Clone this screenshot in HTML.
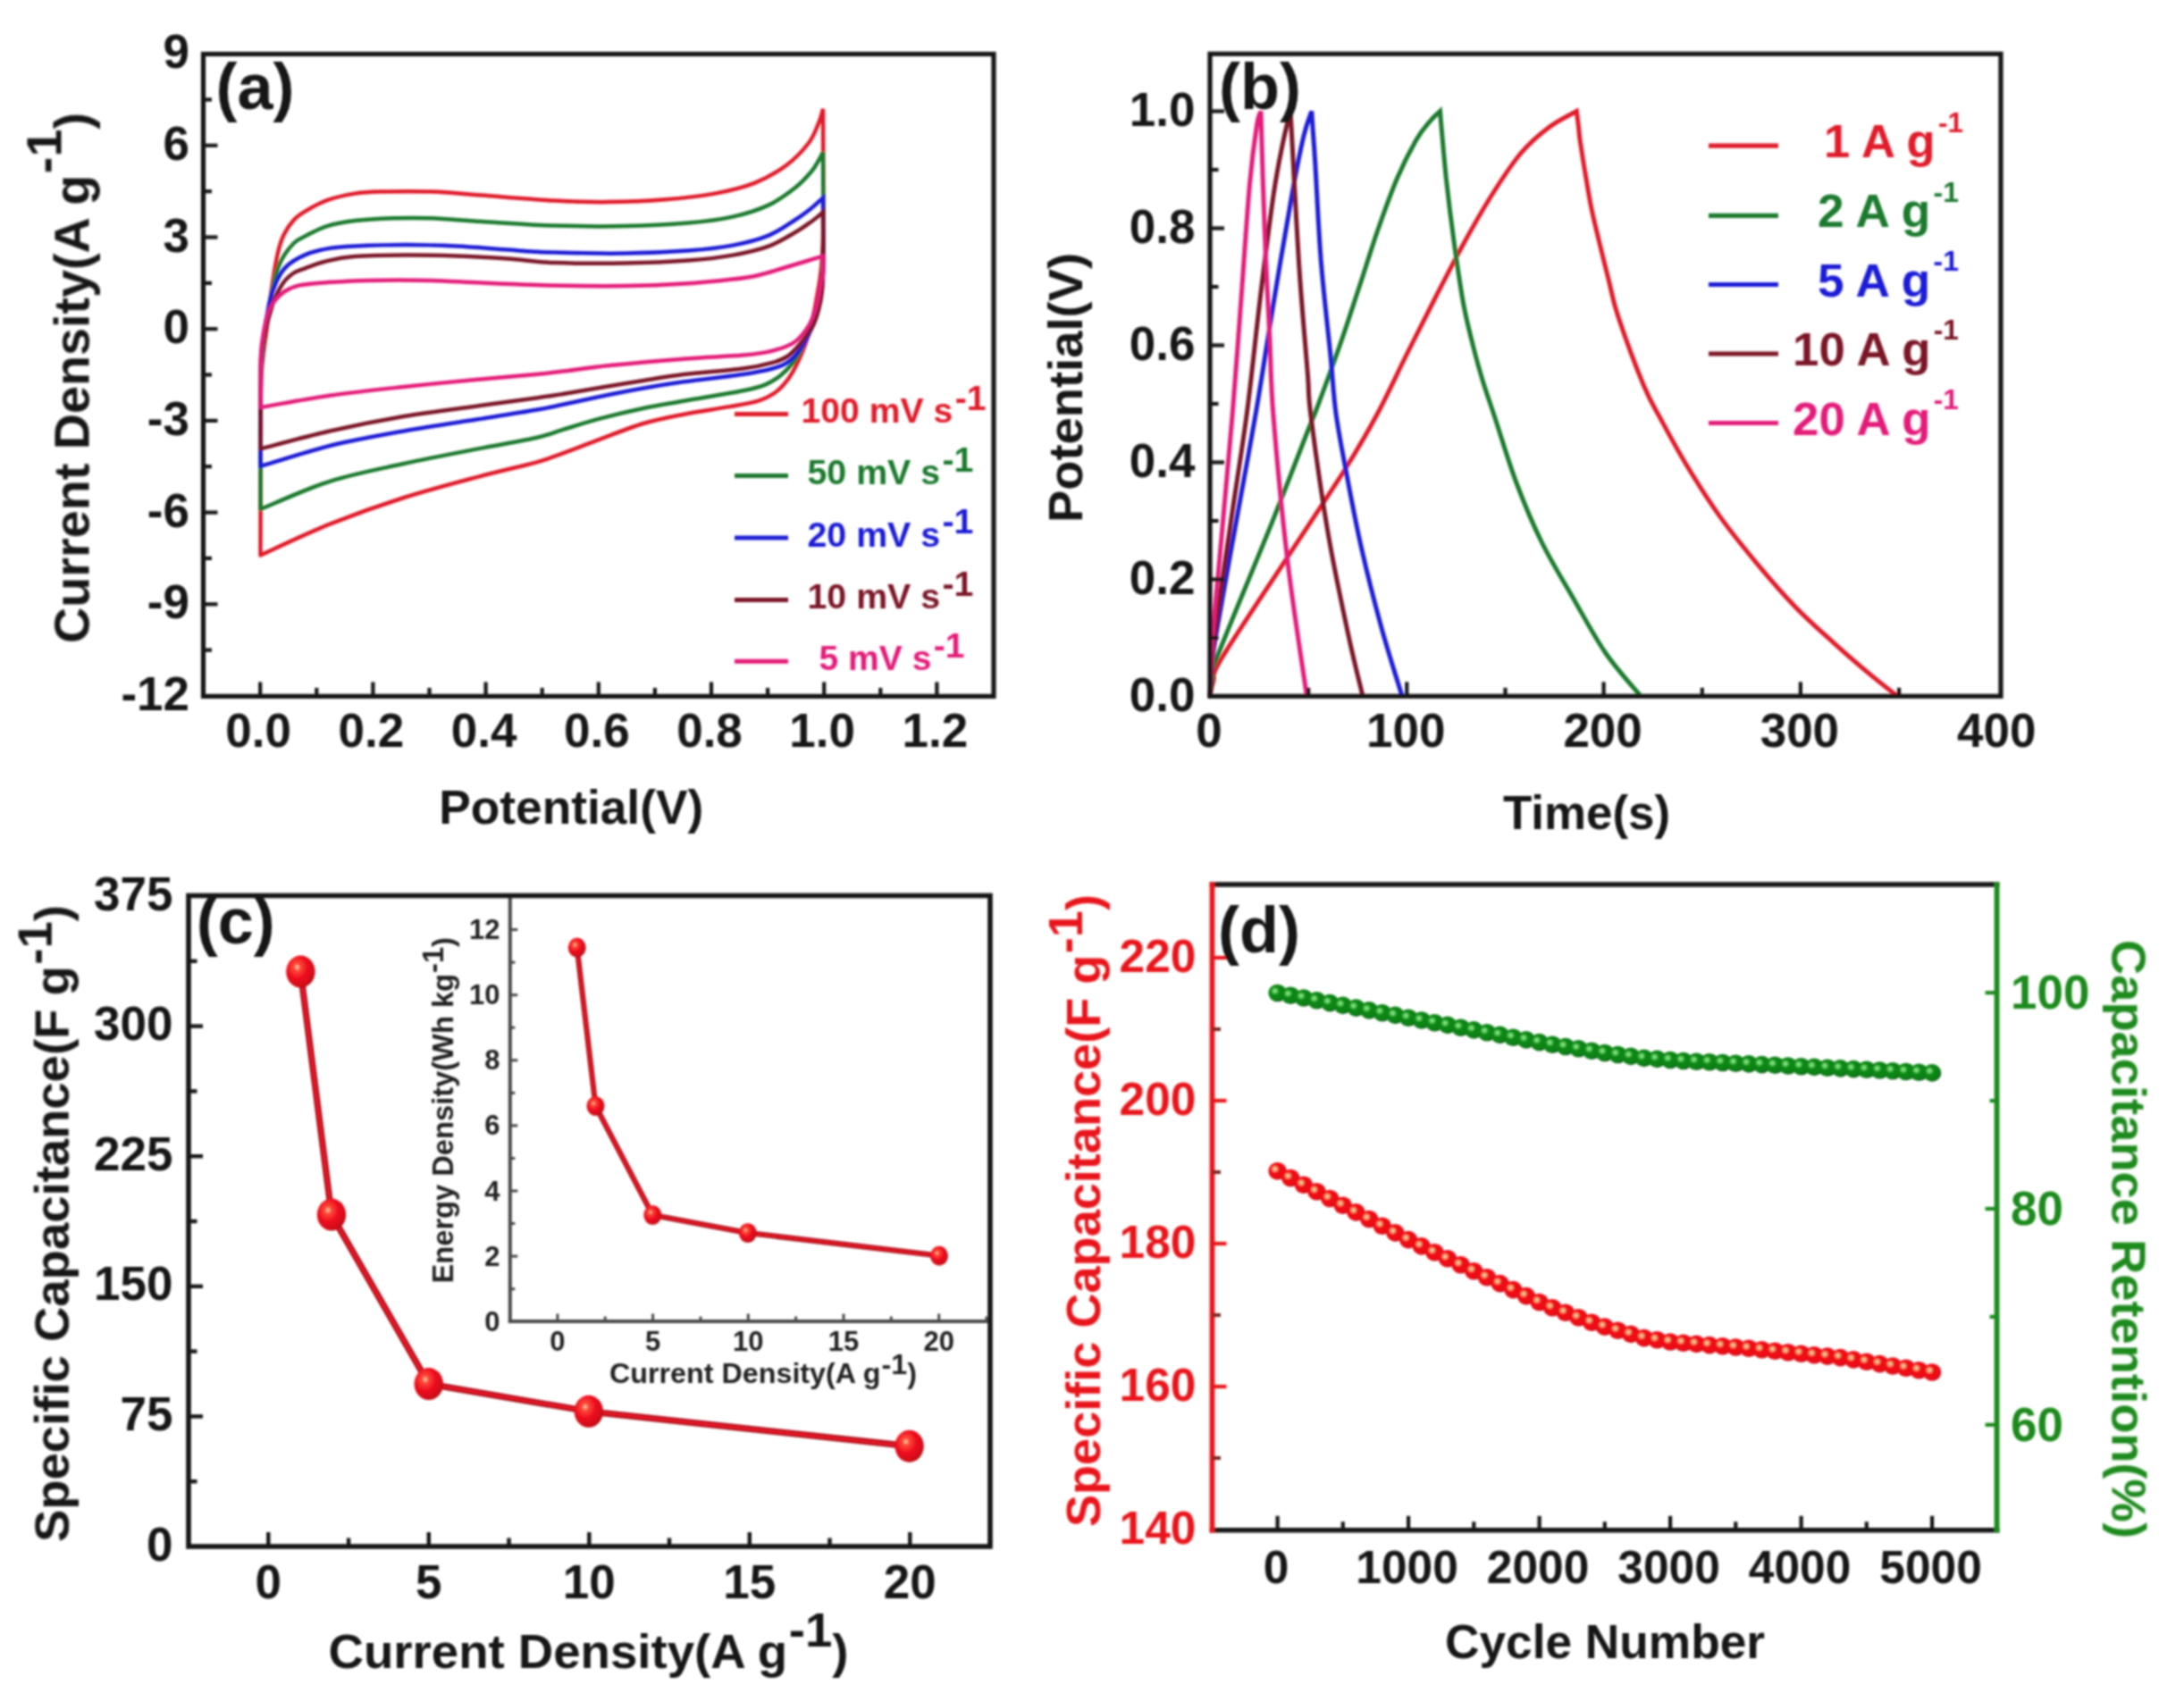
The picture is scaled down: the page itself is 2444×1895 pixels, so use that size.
<!DOCTYPE html>
<html lang="en"><head><meta charset="utf-8"><title>Electrochemical performance figure</title>
<style>html,body{margin:0;padding:0;background:#fff}body{width:2444px;height:1895px;overflow:hidden}svg{display:block}text{font-family:"Liberation Sans", sans-serif}</style>
</head><body>
<svg width="2444" height="1895" viewBox="0 0 2444 1895" role="img" aria-label="Four-panel electrochemical figure">
<defs>
<radialGradient id="ballR" cx="0.38" cy="0.36" r="0.7"><stop offset="0" stop-color="#ffd9b0"/><stop offset="0.16" stop-color="#ff4a3a"/><stop offset="0.5" stop-color="#ee1020"/><stop offset="0.85" stop-color="#d00818"/><stop offset="1" stop-color="#a80a14"/></radialGradient>
<radialGradient id="dotR" cx="0.36" cy="0.38" r="0.66" fx="0.36" fy="0.38"><stop offset="0" stop-color="#f8d8a8"/><stop offset="0.16" stop-color="#f4a878"/><stop offset="0.34" stop-color="#f21019"/><stop offset="0.8" stop-color="#ea0a16"/><stop offset="1" stop-color="#c00c16"/></radialGradient>
<radialGradient id="dotG" cx="0.36" cy="0.38" r="0.66" fx="0.36" fy="0.38"><stop offset="0" stop-color="#96f296"/><stop offset="0.16" stop-color="#62d062"/><stop offset="0.34" stop-color="#0d8a16"/><stop offset="0.8" stop-color="#0b7f13"/><stop offset="1" stop-color="#1c5e20"/></radialGradient>
<filter id="soft" x="-2%" y="-2%" width="104%" height="104%"><feGaussianBlur stdDeviation="1.1"/></filter>
</defs>
<rect width="2444" height="1895" fill="#ffffff"/>
<g filter="url(#soft)">
<g id="panel-a">
<path d="M291.5 621.4C291.6 601.2 291.6 533.6 291.8 500C292 466.4 291.4 442 292.5 420C293.6 398 296.7 383.6 298.5 368C300.3 352.4 301.5 340.3 303.5 326.5C305.5 312.7 308.2 295.6 310.5 285C312.8 274.4 314.4 269.5 317.5 263C320.6 256.5 324.8 250.6 329 246C333.2 241.4 336.8 239.2 343 235.6C349.2 231.9 356.9 227.3 366 224.1C375.1 220.9 387.4 218.2 397.4 216.6C407.4 215 411.8 214.9 426 214.6C440.2 214.3 463.8 213.9 482.6 214.6C501.4 215.3 516.1 216.9 539 218.6C561.9 220.3 596.5 223.3 620 224.6C643.5 225.8 659.7 226.3 680 226.1C700.3 225.9 722 225.2 742 223.6C762 222 782.8 219.8 800 216.6C817.2 213.4 831.7 209.9 845 204.6C858.3 199.3 870 192.4 880 185C890 177.6 899 167.8 905 160C911 152.2 913.3 144.3 916 138C918.7 131.7 920.2 124.7 921 122 L921 122C921 143.3 921.6 220.3 921.3 250C921 279.7 920.2 286.2 919 300C917.8 313.8 915.7 323.3 914 333C912.3 342.7 911.2 349.2 909 358C906.8 366.8 904 377.5 901 386C898 394.5 894.3 402.4 891 409C887.7 415.6 884.8 420.7 881 425.7C877.2 430.7 873.5 435.1 868 439C862.5 442.9 856.8 446.1 848 448.8C839.2 451.5 828.8 452.9 815 455.4C801.2 457.9 781.2 460.6 765.4 463.7C749.6 466.8 735.7 469.3 720 474C704.3 478.7 686 486.2 671 491.8C656 497.4 641.7 503.1 630 507.3C618.3 511.6 616.6 512.9 600.7 517.3C584.8 521.7 559.4 527.2 534.6 533.8C509.8 540.4 479.6 548.2 452 557C424.4 565.8 395.8 576 369 586.7C342.2 597.4 304.4 615.6 291.5 621.4" fill="none" stroke="#e01a2c" stroke-width="4.5" stroke-linejoin="miter" stroke-linecap="round"/>
<path d="M291.5 570C291.6 553.3 291.6 496.7 291.8 470C292 443.3 291.1 430.2 292.5 410C293.9 389.8 297.5 365.3 300 349C302.5 332.7 305 321.7 307.5 312C310 302.3 311.4 297.7 315 291C318.6 284.3 324.3 276.6 329 272C333.7 267.4 336.8 266.8 343 263.6C349.2 260.5 357 255.8 366 253.1C375 250.3 384.7 248.6 397 247.1C409.3 245.6 425.7 244.8 440 244.3C454.3 243.8 466.1 243.7 482.6 244.3C499.1 244.9 516.1 246.6 539 248C561.9 249.4 593.2 251.8 620 252.6C646.8 253.4 675 253.6 700 253.1C725 252.6 750 251.3 770 249.6C790 247.8 805 245.9 820 242.6C835 239.3 848.3 235 860 229.6C871.7 224.2 882 216.3 890 210C898 203.7 903.5 197.3 908 192C912.5 186.7 914.8 181.6 917 178C919.2 174.4 920.3 171.6 921 170.3 L921 170.3C921 186.9 921.5 245.7 921.3 270C921 294.3 920.5 304.2 919.5 316C918.5 327.8 916.9 332.8 915 341C913.1 349.2 911.2 356.4 908 365C904.8 373.6 899.4 385.8 896 392.6C892.6 399.4 891.6 401.1 887.7 405.8C883.9 410.5 878.1 416.6 872.9 420.7C867.7 424.8 863.2 427.8 856.3 430.6C849.4 433.4 846.6 434.3 831.5 437.3C816.4 440.3 784 445.5 765.4 448.8C746.8 452.1 735.7 453.7 720 457C704.3 460.3 686 464.7 671 468.7C656 472.7 641.8 477.3 630 480.9C618.2 484.4 615.9 486.4 600 490C584.1 493.6 559.3 497.6 534.6 502.4C509.9 507.2 479.6 512.9 452 519C424.4 525.1 395.8 530.3 369 538.8C342.2 547.3 304.4 564.8 291.5 570" fill="none" stroke="#1b7a2e" stroke-width="4.5" stroke-linejoin="miter" stroke-linecap="round"/>
<path d="M291.5 522C291.6 508.3 291.6 461.2 291.8 440C292 418.8 291.3 411.6 292.8 395C294.3 378.4 298.2 354 301 340.7C303.8 327.4 306.1 322.1 309.4 315C312.7 307.9 315.6 302.9 320.8 298C326 293.1 333.2 288.9 340.7 285.6C348.2 282.3 356.6 280.1 366 278.4C375.4 276.7 382.3 276.3 397 275.6C411.7 274.9 435 274.1 454 274.1C473 274.1 492 274.7 511 275.6C530 276.5 549.8 278.4 568 279.6C586.2 280.8 598 281.9 620 282.6C642 283.3 675 283.9 700 283.6C725 283.3 750 282.1 770 280.6C790 279.1 805 277.4 820 274.6C835 271.8 848.3 268.4 860 263.6C871.7 258.8 882 251.1 890 246C898 240.9 903.5 236.5 908 233C912.5 229.5 914.8 226.9 917 225C919.2 223.1 920.3 222 921 221.4 L921 221.4C921 232.8 921.5 273.2 921.3 290C921.1 306.8 920.8 312.8 919.8 322C918.8 331.2 917.4 337.5 915.5 345C913.6 352.5 912 359.1 908.5 367C905 374.9 899 386.1 894.4 392.6C889.8 399.1 886 402.5 881 405.8C876 409.1 872.9 410.3 864.6 412.5C856.4 414.7 848 416.5 831.5 419C815 421.5 784 424.7 765.4 427.3C746.8 429.9 735.7 431.7 720 434.5C704.3 437.3 686 440.9 671 444C656 447.1 641.8 450.3 630 452.8C618.2 455.3 615.9 456.1 600 458.8C584.1 461.6 559.3 465.4 534.6 469.3C509.9 473.2 479.6 477.6 452 482.5C424.4 487.4 395.8 492.4 369 499C342.2 505.6 304.4 518.2 291.5 522" fill="none" stroke="#1f1fd6" stroke-width="4.5" stroke-linejoin="miter" stroke-linecap="round"/>
<path d="M291.5 502.4C291.6 490.3 291.6 448.7 291.8 430C292.1 411.3 290.8 404.8 293 390C295.2 375.2 301.2 353 305 341C308.8 329 312.2 323.8 316 318C319.8 312.2 323.7 309 328 306C332.3 303 335.7 302.4 342 300.1C348.3 297.8 356.8 294.3 366 292.1C375.2 289.9 382.3 288.2 397 287.1C411.7 286 435 285.7 454 285.6C473 285.5 492 285.9 511 286.6C530 287.3 549.8 288.4 568 289.6C586.2 290.8 598 293.2 620 294C642 294.8 675 295 700 294.6C725 294.2 750 293.1 770 291.6C790 290.1 805 288.3 820 285.6C835 282.9 848.3 279.9 860 275.6C871.7 271.3 882 264.6 890 260C898 255.4 903.5 251.2 908 248C912.5 244.8 914.8 242.8 917 241C919.2 239.2 920.3 237.7 921 237 L921 237C921 246.7 921.5 280.3 921.3 295C921.1 309.7 920.9 316.3 920 325C919.1 333.7 917.8 340.2 916 347C914.2 353.8 912.6 359.5 909 366C905.4 372.5 899.1 380.5 894.4 386C889.7 391.5 886 395.7 881 399C876 402.3 872.9 403.6 864.6 405.8C856.4 408.1 848 410.3 831.5 412.5C815 414.7 784 416.8 765.4 419C746.8 421.2 735.7 423.5 720 426C704.3 428.5 686 431.5 671 434C656 436.5 641.8 439.1 630 441C618.2 442.9 615.9 443.3 600 445.5C584.1 447.7 559.3 451 534.6 454.4C509.9 457.8 479.6 461.3 452 466C424.4 470.7 395.8 476.4 369 482.5C342.2 488.6 304.4 499.1 291.5 502.4" fill="none" stroke="#7a1626" stroke-width="4.5" stroke-linejoin="miter" stroke-linecap="round"/>
<path d="M291.5 456C291.6 448.3 291.6 421.8 291.8 410C292.1 398.2 291.7 394.7 293 385C294.3 375.3 297.2 359.9 299.5 352C301.8 344.1 303.5 342.1 306.6 337.8C309.7 333.6 313.3 329.6 318 326.5C322.7 323.4 327 321.1 335 319.4C343 317.7 353.2 317 366 316.1C378.8 315.2 392.2 314.3 411.6 313.9C431 313.5 461.4 313.5 482.6 313.9C503.8 314.4 516.1 315.7 539 316.6C561.9 317.6 593.2 319 620 319.6C646.8 320.2 675.8 320.4 700 320.1C724.2 319.8 745.4 318.9 765.4 317.6C785.4 316.4 806.2 314.2 820 312.6C833.8 311 838 310.5 848 308.2C858 305.9 870.5 301.8 880 299C889.5 296.2 898.2 293.6 905 291.5C911.8 289.4 918.3 287.5 921 286.7 L921 286.7C921 289.8 921.5 300 921.2 305C920.9 310 920.2 310.5 919 316.5C917.8 322.5 916.4 333.3 914.2 341C912 348.7 910.1 355.9 906 362.8C901.9 369.8 896.3 377.7 889.4 382.7C882.5 387.7 874.2 390.1 864.6 392.6C855 395.1 848 396.1 831.5 397.6C815 399.1 790.2 399.8 765.4 401.7C740.6 403.6 705.3 406.7 682.7 409C660.1 411.3 643.8 413.9 630 415.6C616.2 417.3 615.9 417.5 600 419C584.1 420.5 559.3 422.4 534.6 424.7C509.9 427 479.6 430 452 433C424.4 436 395.8 439 369 442.8C342.2 446.6 304.4 453.8 291.5 456" fill="none" stroke="#e31c79" stroke-width="4.5" stroke-linejoin="miter" stroke-linecap="round"/>
<rect x="227.5" y="60.5" width="884.5" height="718.9" fill="none" stroke="#161616" stroke-width="5.2"/>
<line x1="227.5" y1="676.3" x2="243.5" y2="676.3" stroke="#161616" stroke-width="4.2" stroke-linecap="butt"/>
<line x1="227.5" y1="573.6" x2="243.5" y2="573.6" stroke="#161616" stroke-width="4.2" stroke-linecap="butt"/>
<line x1="227.5" y1="470.9" x2="243.5" y2="470.9" stroke="#161616" stroke-width="4.2" stroke-linecap="butt"/>
<line x1="227.5" y1="368.2" x2="243.5" y2="368.2" stroke="#161616" stroke-width="4.2" stroke-linecap="butt"/>
<line x1="227.5" y1="265.5" x2="243.5" y2="265.5" stroke="#161616" stroke-width="4.2" stroke-linecap="butt"/>
<line x1="227.5" y1="162.8" x2="243.5" y2="162.8" stroke="#161616" stroke-width="4.2" stroke-linecap="butt"/>
<line x1="227.5" y1="727.6" x2="237" y2="727.6" stroke="#161616" stroke-width="4.2" stroke-linecap="butt"/>
<line x1="227.5" y1="624.9" x2="237" y2="624.9" stroke="#161616" stroke-width="4.2" stroke-linecap="butt"/>
<line x1="227.5" y1="522.2" x2="237" y2="522.2" stroke="#161616" stroke-width="4.2" stroke-linecap="butt"/>
<line x1="227.5" y1="419.5" x2="237" y2="419.5" stroke="#161616" stroke-width="4.2" stroke-linecap="butt"/>
<line x1="227.5" y1="316.9" x2="237" y2="316.9" stroke="#161616" stroke-width="4.2" stroke-linecap="butt"/>
<line x1="227.5" y1="214.2" x2="237" y2="214.2" stroke="#161616" stroke-width="4.2" stroke-linecap="butt"/>
<line x1="227.5" y1="111.5" x2="237" y2="111.5" stroke="#161616" stroke-width="4.2" stroke-linecap="butt"/>
<text x="212" y="76.1" font-size="53" font-weight="bold" text-anchor="end" fill="#161616">9</text>
<text x="212" y="178.8" font-size="53" font-weight="bold" text-anchor="end" fill="#161616">6</text>
<text x="212" y="281.5" font-size="53" font-weight="bold" text-anchor="end" fill="#161616">3</text>
<text x="212" y="384.2" font-size="53" font-weight="bold" text-anchor="end" fill="#161616">0</text>
<text x="212" y="486.9" font-size="53" font-weight="bold" text-anchor="end" fill="#161616">-3</text>
<text x="212" y="589.6" font-size="53" font-weight="bold" text-anchor="end" fill="#161616">-6</text>
<text x="212" y="692.3" font-size="53" font-weight="bold" text-anchor="end" fill="#161616">-9</text>
<text x="212" y="795" font-size="53" font-weight="bold" text-anchor="end" fill="#161616">-12</text>
<line x1="291.2" y1="779.4" x2="291.2" y2="763.4" stroke="#161616" stroke-width="4.2" stroke-linecap="butt"/>
<text x="289.2" y="836" font-size="53" font-weight="bold" text-anchor="middle" fill="#161616">0.0</text>
<line x1="417.4" y1="779.4" x2="417.4" y2="763.4" stroke="#161616" stroke-width="4.2" stroke-linecap="butt"/>
<text x="415.4" y="836" font-size="53" font-weight="bold" text-anchor="middle" fill="#161616">0.2</text>
<line x1="543.6" y1="779.4" x2="543.6" y2="763.4" stroke="#161616" stroke-width="4.2" stroke-linecap="butt"/>
<text x="541.6" y="836" font-size="53" font-weight="bold" text-anchor="middle" fill="#161616">0.4</text>
<line x1="669.8" y1="779.4" x2="669.8" y2="763.4" stroke="#161616" stroke-width="4.2" stroke-linecap="butt"/>
<text x="667.8" y="836" font-size="53" font-weight="bold" text-anchor="middle" fill="#161616">0.6</text>
<line x1="796" y1="779.4" x2="796" y2="763.4" stroke="#161616" stroke-width="4.2" stroke-linecap="butt"/>
<text x="794" y="836" font-size="53" font-weight="bold" text-anchor="middle" fill="#161616">0.8</text>
<line x1="922.2" y1="779.4" x2="922.2" y2="763.4" stroke="#161616" stroke-width="4.2" stroke-linecap="butt"/>
<text x="920.2" y="836" font-size="53" font-weight="bold" text-anchor="middle" fill="#161616">1.0</text>
<line x1="1048.4" y1="779.4" x2="1048.4" y2="763.4" stroke="#161616" stroke-width="4.2" stroke-linecap="butt"/>
<text x="1046.4" y="836" font-size="53" font-weight="bold" text-anchor="middle" fill="#161616">1.2</text>
<line x1="354.3" y1="779.4" x2="354.3" y2="769.9" stroke="#161616" stroke-width="4.2" stroke-linecap="butt"/>
<line x1="480.5" y1="779.4" x2="480.5" y2="769.9" stroke="#161616" stroke-width="4.2" stroke-linecap="butt"/>
<line x1="606.7" y1="779.4" x2="606.7" y2="769.9" stroke="#161616" stroke-width="4.2" stroke-linecap="butt"/>
<line x1="732.9" y1="779.4" x2="732.9" y2="769.9" stroke="#161616" stroke-width="4.2" stroke-linecap="butt"/>
<line x1="859.1" y1="779.4" x2="859.1" y2="769.9" stroke="#161616" stroke-width="4.2" stroke-linecap="butt"/>
<line x1="985.3" y1="779.4" x2="985.3" y2="769.9" stroke="#161616" stroke-width="4.2" stroke-linecap="butt"/>
<text x="639.2" y="921.5" font-size="53" font-weight="bold" text-anchor="middle" fill="#161616" textLength="296" lengthAdjust="spacingAndGlyphs">Potential(V)</text>
<text x="99.5" y="720" font-size="55" font-weight="bold" text-anchor="start" fill="#161616" transform="rotate(-90 99.5 720)" textLength="594" lengthAdjust="spacingAndGlyphs">Current Density(A g<tspan font-size="55" dy="-31.3" dx="1.6">-1</tspan><tspan dy="31.3" dx="0">)</tspan></text>
<text x="285.5" y="122" font-size="72" font-weight="bold" text-anchor="middle" fill="#161616">(a)</text>
<line x1="822" y1="463.5" x2="882" y2="463.5" stroke="#e01a2c" stroke-width="5" stroke-linecap="butt"/>
<text x="896.5" y="473" font-size="38" font-weight="bold" text-anchor="start" fill="#e01a2c" textLength="207" lengthAdjust="spacingAndGlyphs">100 mV s<tspan font-size="38" dy="-14.1" dx="2.3">-1</tspan><tspan dy="14.1" dx="0"></tspan></text>
<line x1="822" y1="532.5" x2="882" y2="532.5" stroke="#1b7a2e" stroke-width="5" stroke-linecap="butt"/>
<text x="903.5" y="542" font-size="38" font-weight="bold" text-anchor="start" fill="#1b7a2e" textLength="186" lengthAdjust="spacingAndGlyphs">50 mV s<tspan font-size="38" dy="-14.1" dx="2.3">-1</tspan><tspan dy="14.1" dx="0"></tspan></text>
<line x1="822" y1="602" x2="882" y2="602" stroke="#1f1fd6" stroke-width="5" stroke-linecap="butt"/>
<text x="903.5" y="611.5" font-size="38" font-weight="bold" text-anchor="start" fill="#1f1fd6" textLength="186" lengthAdjust="spacingAndGlyphs">20 mV s<tspan font-size="38" dy="-14.1" dx="2.3">-1</tspan><tspan dy="14.1" dx="0"></tspan></text>
<line x1="822" y1="671.6" x2="882" y2="671.6" stroke="#7a1626" stroke-width="5" stroke-linecap="butt"/>
<text x="903.5" y="681.1" font-size="38" font-weight="bold" text-anchor="start" fill="#7a1626" textLength="186" lengthAdjust="spacingAndGlyphs">10 mV s<tspan font-size="38" dy="-14.1" dx="2.3">-1</tspan><tspan dy="14.1" dx="0"></tspan></text>
<line x1="822" y1="740.3" x2="882" y2="740.3" stroke="#e31c79" stroke-width="5" stroke-linecap="butt"/>
<text x="916.5" y="749.8" font-size="38" font-weight="bold" text-anchor="start" fill="#e31c79" textLength="163" lengthAdjust="spacingAndGlyphs">5 mV s<tspan font-size="38" dy="-14.1" dx="2.3">-1</tspan><tspan dy="14.1" dx="0"></tspan></text>
</g>
<g id="panel-b">
<path d="M1354 779C1354.7 776.2 1355.8 769 1358 762C1360.2 755 1353.2 760.1 1367 737C1380.8 713.9 1417.8 658.8 1441 623.3C1464.2 587.8 1489.2 550.9 1506 524C1522.8 497.1 1530.7 483.2 1542 462C1553.3 440.8 1563.4 418.3 1574 397C1584.6 375.7 1595.2 354.7 1605.8 334C1616.4 313.3 1627.1 292.3 1637.7 273C1648.3 253.7 1659 234.8 1669.6 218C1680.2 201.2 1690.9 184.6 1701.5 172C1712.1 159.4 1722.9 150.4 1733.4 142.5C1743.9 134.6 1759.2 127.5 1764.3 124.5 L1764.3 124.5C1764.7 127.4 1765.8 136.2 1766.5 142C1767.2 147.8 1766.8 148.3 1768.4 159C1770 169.7 1773.6 192.3 1776 206C1778.4 219.7 1778.6 223.5 1782.6 241.3C1786.6 259.1 1795.3 293.8 1800 312.7C1804.7 331.6 1804.4 335.1 1811 354.9C1817.6 374.7 1831.4 412.3 1839.4 431.5C1847.4 450.7 1851 455.1 1859 470C1867 484.9 1876.7 503 1887.6 521C1898.5 539 1911.3 559.4 1924.5 577.9C1937.7 596.4 1952.8 614.8 1967 631.8C1981.2 648.8 1995.5 665.3 2009.7 680C2023.9 694.7 2038.1 707 2052.3 719.8C2066.5 732.6 2083.3 747 2094.9 756.7C2106.5 766.4 2117.3 774.5 2121.8 778" fill="none" stroke="#e01a2c" stroke-width="5.0" stroke-linejoin="miter" stroke-linecap="round"/>
<path d="M1354 779C1354.5 775.5 1355.8 765 1357 758C1358.2 751 1350.2 765.9 1361.4 736.8C1372.6 707.7 1406.9 626.1 1423.9 583.6C1440.9 541.1 1455.2 503.3 1463.6 482C1471.9 460.7 1468 472 1474 456C1480 440 1491.7 408.3 1499.5 386C1507.3 363.7 1513.7 343.5 1520.8 322C1527.9 300.5 1534.9 277.3 1542 257C1549.1 236.7 1556.2 216.7 1563.3 200C1570.4 183.3 1578.5 167.7 1584.6 157C1590.7 146.3 1595.5 141.4 1600 136C1604.5 130.6 1609.6 126.4 1611.5 124.5 L1611.5 124.5C1611.8 127.4 1611.8 129.1 1613 142C1614.2 154.9 1616.3 180.7 1618.6 202C1620.9 223.3 1623.8 246.9 1627 270C1630.2 293.1 1634.1 320.8 1637.7 340.3C1641.3 359.8 1644.9 372.8 1648.4 387C1652 401.2 1654.8 411.6 1659 425.4C1663.2 439.2 1667.5 451.1 1673.7 470C1679.9 488.9 1687.9 516.3 1696.4 539C1704.9 561.7 1714.2 584.4 1724.8 606C1735.4 627.6 1748 647.9 1760 668.7C1772 689.5 1784.3 712.8 1796.8 731C1809.3 749.2 1828.6 770.2 1835 778" fill="none" stroke="#1b7a2e" stroke-width="5.0" stroke-linejoin="miter" stroke-linecap="round"/>
<path d="M1354 779C1354.3 774.2 1355 760.7 1356 750C1357 739.3 1355.2 744.2 1360 715C1364.8 685.8 1377.4 617.2 1385 575C1392.6 532.8 1398.7 501.1 1405.4 462C1412.1 422.9 1418.2 381.5 1425 340.3C1431.8 299.1 1440.6 246.2 1446.3 214.8C1452 183.4 1455.4 167.1 1459 152C1462.6 136.9 1466.3 129.1 1467.8 124.5 L1467.8 124.5C1468.1 128.8 1468.8 139.9 1469.5 150C1470.2 160.1 1470.5 161.4 1471.9 185C1473.4 208.6 1475.4 255.9 1478.2 291.4C1481 326.8 1486.1 369.3 1488.9 397.7C1491.7 426.1 1492 440.5 1494.9 462C1497.8 483.5 1501.5 501.8 1506.2 526.8C1510.9 551.8 1516.6 582.7 1523.2 612C1529.8 641.3 1538.4 675.1 1546 702.8C1553.6 730.5 1564.9 765.5 1568.7 778" fill="none" stroke="#1f1fd6" stroke-width="5.0" stroke-linejoin="miter" stroke-linecap="round"/>
<path d="M1354 779C1354.3 773.8 1355.1 759.5 1356 748C1356.9 736.5 1355.8 738 1359.5 710C1363.2 682 1372 621.3 1378 580C1384 538.7 1390 503 1395.4 462C1400.8 421 1405.3 374.5 1410.2 334C1415.1 293.5 1420.8 248.1 1425 219C1429.2 189.9 1432.5 175.2 1435.7 159.5C1438.9 143.8 1442.6 130.3 1444 124.5 L1444 124.5C1444.2 128.8 1444.8 136.4 1445.5 150C1446.2 163.6 1447 179.2 1448.5 206.3C1450 233.4 1452.3 277.2 1454.8 312.7C1457.3 348.1 1461.4 393.4 1463.4 419C1465.4 444.6 1463.2 436.2 1467 466C1470.8 495.8 1479.3 556.8 1486.3 597.7C1493.3 638.6 1502.6 681.2 1509 711.3C1515.4 741.3 1522.1 766.9 1524.7 778" fill="none" stroke="#7a1626" stroke-width="5.0" stroke-linejoin="miter" stroke-linecap="round"/>
<path d="M1354 779C1354.2 773.3 1354.8 758.2 1355.5 745C1356.2 731.8 1355.9 725.8 1358 700C1360.1 674.2 1364.5 629 1368 590C1371.5 551 1375.5 508.7 1379 466C1382.5 423.3 1385.8 377.3 1389 334C1392.2 290.7 1395.6 238.3 1398.5 206C1401.4 173.7 1404.4 153.6 1406.5 140C1408.6 126.4 1410.2 127.1 1411 124.5 L1411 124.5C1411.2 130.4 1411.6 146.4 1412 160C1412.4 173.6 1412.6 184.1 1413.4 206C1414.2 227.9 1415.4 263 1416.6 291.4C1417.8 319.8 1419.4 347.4 1420.8 376.5C1422.2 405.6 1421.6 423.9 1425 466C1428.4 508.1 1434.8 577 1441 629C1447.2 681 1458.7 753.2 1462.2 778" fill="none" stroke="#e31c79" stroke-width="5.0" stroke-linejoin="miter" stroke-linecap="round"/>
<rect x="1354" y="60.3" width="885" height="719" fill="none" stroke="#161616" stroke-width="5.2"/>
<text x="1337.5" y="795.5" font-size="53" font-weight="bold" text-anchor="end" fill="#161616">0.0</text>
<line x1="1354" y1="714" x2="1363.5" y2="714" stroke="#161616" stroke-width="4.2" stroke-linecap="butt"/>
<line x1="1354" y1="648.5" x2="1370" y2="648.5" stroke="#161616" stroke-width="4.2" stroke-linecap="butt"/>
<text x="1337.5" y="664.5" font-size="53" font-weight="bold" text-anchor="end" fill="#161616">0.2</text>
<line x1="1354" y1="583" x2="1363.5" y2="583" stroke="#161616" stroke-width="4.2" stroke-linecap="butt"/>
<line x1="1354" y1="517.5" x2="1370" y2="517.5" stroke="#161616" stroke-width="4.2" stroke-linecap="butt"/>
<text x="1337.5" y="533.5" font-size="53" font-weight="bold" text-anchor="end" fill="#161616">0.4</text>
<line x1="1354" y1="452" x2="1363.5" y2="452" stroke="#161616" stroke-width="4.2" stroke-linecap="butt"/>
<line x1="1354" y1="386.5" x2="1370" y2="386.5" stroke="#161616" stroke-width="4.2" stroke-linecap="butt"/>
<text x="1337.5" y="402.5" font-size="53" font-weight="bold" text-anchor="end" fill="#161616">0.6</text>
<line x1="1354" y1="321" x2="1363.5" y2="321" stroke="#161616" stroke-width="4.2" stroke-linecap="butt"/>
<line x1="1354" y1="255.5" x2="1370" y2="255.5" stroke="#161616" stroke-width="4.2" stroke-linecap="butt"/>
<text x="1337.5" y="271.5" font-size="53" font-weight="bold" text-anchor="end" fill="#161616">0.8</text>
<line x1="1354" y1="190" x2="1363.5" y2="190" stroke="#161616" stroke-width="4.2" stroke-linecap="butt"/>
<line x1="1354" y1="124.5" x2="1370" y2="124.5" stroke="#161616" stroke-width="4.2" stroke-linecap="butt"/>
<text x="1337.5" y="140.5" font-size="53" font-weight="bold" text-anchor="end" fill="#161616">1.0</text>
<text x="1353" y="836" font-size="53" font-weight="bold" text-anchor="middle" fill="#161616">0</text>
<line x1="1464.2" y1="779.3" x2="1464.2" y2="769.8" stroke="#161616" stroke-width="4.2" stroke-linecap="butt"/>
<line x1="1574.3" y1="779.3" x2="1574.3" y2="763.3" stroke="#161616" stroke-width="4.2" stroke-linecap="butt"/>
<text x="1573.3" y="836" font-size="53" font-weight="bold" text-anchor="middle" fill="#161616">100</text>
<line x1="1684.5" y1="779.3" x2="1684.5" y2="769.8" stroke="#161616" stroke-width="4.2" stroke-linecap="butt"/>
<line x1="1794.6" y1="779.3" x2="1794.6" y2="763.3" stroke="#161616" stroke-width="4.2" stroke-linecap="butt"/>
<text x="1793.6" y="836" font-size="53" font-weight="bold" text-anchor="middle" fill="#161616">200</text>
<line x1="1904.8" y1="779.3" x2="1904.8" y2="769.8" stroke="#161616" stroke-width="4.2" stroke-linecap="butt"/>
<line x1="2014.9" y1="779.3" x2="2014.9" y2="763.3" stroke="#161616" stroke-width="4.2" stroke-linecap="butt"/>
<text x="2013.9" y="836" font-size="53" font-weight="bold" text-anchor="middle" fill="#161616">300</text>
<line x1="2125.1" y1="779.3" x2="2125.1" y2="769.8" stroke="#161616" stroke-width="4.2" stroke-linecap="butt"/>
<text x="2234.2" y="836" font-size="53" font-weight="bold" text-anchor="middle" fill="#161616">400</text>
<text x="1775.5" y="928" font-size="53" font-weight="bold" text-anchor="middle" fill="#161616" textLength="187" lengthAdjust="spacingAndGlyphs">Time(s)</text>
<text x="1210.5" y="585" font-size="54" font-weight="bold" text-anchor="start" fill="#161616" transform="rotate(-90 1210.5 585)" textLength="302" lengthAdjust="spacingAndGlyphs">Potential(V)</text>
<text x="1410" y="122" font-size="72" font-weight="bold" text-anchor="middle" fill="#161616">(b)</text>
<line x1="1912" y1="163.2" x2="1990" y2="163.2" stroke="#e01a2c" stroke-width="5.2" stroke-linecap="butt"/>
<text x="2041" y="176.2" font-size="51" font-weight="bold" text-anchor="start" fill="#e01a2c" textLength="156" lengthAdjust="spacingAndGlyphs">1 A g<tspan font-size="30.6" dy="-28.6" dx="3.1">-1</tspan><tspan dy="28.6" dx="0"></tspan></text>
<line x1="1912" y1="241.3" x2="1990" y2="241.3" stroke="#1b7a2e" stroke-width="5.2" stroke-linecap="butt"/>
<text x="2034" y="254.3" font-size="51" font-weight="bold" text-anchor="start" fill="#1b7a2e" textLength="158" lengthAdjust="spacingAndGlyphs">2 A g<tspan font-size="30.6" dy="-28.6" dx="3.1">-1</tspan><tspan dy="28.6" dx="0"></tspan></text>
<line x1="1912" y1="318.5" x2="1990" y2="318.5" stroke="#1f1fd6" stroke-width="5.2" stroke-linecap="butt"/>
<text x="2034" y="331.5" font-size="51" font-weight="bold" text-anchor="start" fill="#1f1fd6" textLength="158" lengthAdjust="spacingAndGlyphs">5 A g<tspan font-size="30.6" dy="-28.6" dx="3.1">-1</tspan><tspan dy="28.6" dx="0"></tspan></text>
<line x1="1912" y1="396" x2="1990" y2="396" stroke="#7a1626" stroke-width="5.2" stroke-linecap="butt"/>
<text x="2006" y="409" font-size="51" font-weight="bold" text-anchor="start" fill="#7a1626" textLength="186" lengthAdjust="spacingAndGlyphs">10 A g<tspan font-size="30.6" dy="-28.6" dx="3.1">-1</tspan><tspan dy="28.6" dx="0"></tspan></text>
<line x1="1912" y1="473.5" x2="1990" y2="473.5" stroke="#e31c79" stroke-width="5.2" stroke-linecap="butt"/>
<text x="2006" y="486.5" font-size="51" font-weight="bold" text-anchor="start" fill="#e31c79" textLength="186" lengthAdjust="spacingAndGlyphs">20 A g<tspan font-size="30.6" dy="-28.6" dx="3.1">-1</tspan><tspan dy="28.6" dx="0"></tspan></text>
</g>
<g id="panel-c">
<line x1="570.8" y1="1002.5" x2="570.8" y2="1481" stroke="#4a4a4a" stroke-width="4" stroke-linecap="butt"/>
<line x1="568.8" y1="1479" x2="1108" y2="1479" stroke="#4a4a4a" stroke-width="4" stroke-linecap="butt"/>
<line x1="570.8" y1="1442.7" x2="576.3" y2="1442.7" stroke="#4a4a4a" stroke-width="3" stroke-linecap="butt"/>
<line x1="570.8" y1="1406.1" x2="579.3" y2="1406.1" stroke="#4a4a4a" stroke-width="3" stroke-linecap="butt"/>
<line x1="570.8" y1="1369.5" x2="576.3" y2="1369.5" stroke="#4a4a4a" stroke-width="3" stroke-linecap="butt"/>
<line x1="570.8" y1="1333" x2="579.3" y2="1333" stroke="#4a4a4a" stroke-width="3" stroke-linecap="butt"/>
<line x1="570.8" y1="1296.5" x2="576.3" y2="1296.5" stroke="#4a4a4a" stroke-width="3" stroke-linecap="butt"/>
<line x1="570.8" y1="1259.9" x2="579.3" y2="1259.9" stroke="#4a4a4a" stroke-width="3" stroke-linecap="butt"/>
<line x1="570.8" y1="1223.4" x2="576.3" y2="1223.4" stroke="#4a4a4a" stroke-width="3" stroke-linecap="butt"/>
<line x1="570.8" y1="1186.8" x2="579.3" y2="1186.8" stroke="#4a4a4a" stroke-width="3" stroke-linecap="butt"/>
<line x1="570.8" y1="1150.2" x2="576.3" y2="1150.2" stroke="#4a4a4a" stroke-width="3" stroke-linecap="butt"/>
<line x1="570.8" y1="1113.7" x2="579.3" y2="1113.7" stroke="#4a4a4a" stroke-width="3" stroke-linecap="butt"/>
<line x1="570.8" y1="1077.2" x2="576.3" y2="1077.2" stroke="#4a4a4a" stroke-width="3" stroke-linecap="butt"/>
<line x1="570.8" y1="1040.6" x2="579.3" y2="1040.6" stroke="#4a4a4a" stroke-width="3" stroke-linecap="butt"/>
<text x="559.5" y="1489.7" font-size="31" font-weight="bold" text-anchor="end" fill="#222">0</text>
<text x="559.5" y="1416.6" font-size="31" font-weight="bold" text-anchor="end" fill="#222">2</text>
<text x="559.5" y="1343.5" font-size="31" font-weight="bold" text-anchor="end" fill="#222">4</text>
<text x="559.5" y="1270.4" font-size="31" font-weight="bold" text-anchor="end" fill="#222">6</text>
<text x="559.5" y="1197.3" font-size="31" font-weight="bold" text-anchor="end" fill="#222">8</text>
<text x="559.5" y="1124.2" font-size="31" font-weight="bold" text-anchor="end" fill="#222">10</text>
<text x="559.5" y="1051.1" font-size="31" font-weight="bold" text-anchor="end" fill="#222">12</text>
<line x1="623.9" y1="1479" x2="623.9" y2="1470.5" stroke="#4a4a4a" stroke-width="3" stroke-linecap="butt"/>
<text x="623.9" y="1512" font-size="31" font-weight="bold" text-anchor="middle" fill="#222">0</text>
<line x1="730.6" y1="1479" x2="730.6" y2="1470.5" stroke="#4a4a4a" stroke-width="3" stroke-linecap="butt"/>
<text x="730.6" y="1512" font-size="31" font-weight="bold" text-anchor="middle" fill="#222">5</text>
<line x1="677.2" y1="1479" x2="677.2" y2="1473.5" stroke="#4a4a4a" stroke-width="3" stroke-linecap="butt"/>
<line x1="837.3" y1="1479" x2="837.3" y2="1470.5" stroke="#4a4a4a" stroke-width="3" stroke-linecap="butt"/>
<text x="837.3" y="1512" font-size="31" font-weight="bold" text-anchor="middle" fill="#222">10</text>
<line x1="784" y1="1479" x2="784" y2="1473.5" stroke="#4a4a4a" stroke-width="3" stroke-linecap="butt"/>
<line x1="944" y1="1479" x2="944" y2="1470.5" stroke="#4a4a4a" stroke-width="3" stroke-linecap="butt"/>
<text x="944" y="1512" font-size="31" font-weight="bold" text-anchor="middle" fill="#222">15</text>
<line x1="890.6" y1="1479" x2="890.6" y2="1473.5" stroke="#4a4a4a" stroke-width="3" stroke-linecap="butt"/>
<line x1="1050.7" y1="1479" x2="1050.7" y2="1470.5" stroke="#4a4a4a" stroke-width="3" stroke-linecap="butt"/>
<text x="1050.7" y="1512" font-size="31" font-weight="bold" text-anchor="middle" fill="#222">20</text>
<line x1="997.3" y1="1479" x2="997.3" y2="1473.5" stroke="#4a4a4a" stroke-width="3" stroke-linecap="butt"/>
<line x1="1104" y1="1479" x2="1104" y2="1473.5" stroke="#4a4a4a" stroke-width="3" stroke-linecap="butt"/>
<text x="682" y="1547.5" font-size="32" font-weight="bold" text-anchor="start" fill="#222" textLength="344" lengthAdjust="spacingAndGlyphs">Current Density(A g<tspan font-size="32" dy="-9.6" dx="1">-1</tspan><tspan dy="9.6" dx="0">)</tspan></text>
<text x="506.8" y="1436.5" font-size="33" font-weight="bold" text-anchor="start" fill="#222" transform="rotate(-90 506.8 1436.5)" textLength="387.5" lengthAdjust="spacingAndGlyphs">Energy Density(Wh kg<tspan font-size="33" dy="-11.2" dx="1">-1</tspan><tspan dy="11.2" dx="0">)</tspan></text>
<path d="M645.7 1060.6 L666.5 1238 L730.3 1360 L836.8 1380 L1051 1405.6" fill="none" stroke="#a80c18" stroke-width="6" stroke-linejoin="round" stroke-linecap="round"/>
<path d="M645.7 1060.6 L666.5 1238 L730.3 1360 L836.8 1380 L1051 1405.6" fill="none" stroke="#e21424" stroke-width="3" stroke-linejoin="round" stroke-linecap="round"/>
<ellipse cx="645.7" cy="1060.6" rx="10" ry="10.8" fill="url(#ballR)"/>
<ellipse cx="666.5" cy="1238" rx="10" ry="10.8" fill="url(#ballR)"/>
<ellipse cx="730.3" cy="1360" rx="10" ry="10.8" fill="url(#ballR)"/>
<ellipse cx="836.8" cy="1380" rx="10" ry="10.8" fill="url(#ballR)"/>
<ellipse cx="1051" cy="1405.6" rx="10" ry="10.8" fill="url(#ballR)"/>
<path d="M336.4 1087.6 L371 1359.6 L479.8 1549.1 L658.8 1579.8 L1017.6 1618.7" fill="none" stroke="#a80c18" stroke-width="7.2" stroke-linejoin="round" stroke-linecap="round"/>
<path d="M336.4 1087.6 L371 1359.6 L479.8 1549.1 L658.8 1579.8 L1017.6 1618.7" fill="none" stroke="#e41426" stroke-width="3.6" stroke-linejoin="round" stroke-linecap="round"/>
<ellipse cx="336.4" cy="1087.6" rx="16.2" ry="18" fill="url(#ballR)"/>
<ellipse cx="371" cy="1359.6" rx="16.2" ry="18" fill="url(#ballR)"/>
<ellipse cx="479.8" cy="1549.1" rx="16.2" ry="18" fill="url(#ballR)"/>
<ellipse cx="658.8" cy="1579.8" rx="16.2" ry="18" fill="url(#ballR)"/>
<ellipse cx="1017.6" cy="1618.7" rx="16.2" ry="18" fill="url(#ballR)"/>
<rect x="211" y="1002.5" width="897" height="728.5" fill="none" stroke="#161616" stroke-width="5.6"/>
<text x="193.5" y="1746.5" font-size="53" font-weight="bold" text-anchor="end" fill="#161616">0</text>
<line x1="211" y1="1658.2" x2="220.5" y2="1658.2" stroke="#161616" stroke-width="4.4" stroke-linecap="butt"/>
<line x1="211" y1="1585.4" x2="227" y2="1585.4" stroke="#161616" stroke-width="4.4" stroke-linecap="butt"/>
<text x="193.5" y="1600.9" font-size="53" font-weight="bold" text-anchor="end" fill="#161616">75</text>
<line x1="211" y1="1512.6" x2="220.5" y2="1512.6" stroke="#161616" stroke-width="4.4" stroke-linecap="butt"/>
<line x1="211" y1="1439.8" x2="227" y2="1439.8" stroke="#161616" stroke-width="4.4" stroke-linecap="butt"/>
<text x="193.5" y="1455.3" font-size="53" font-weight="bold" text-anchor="end" fill="#161616">150</text>
<line x1="211" y1="1367" x2="220.5" y2="1367" stroke="#161616" stroke-width="4.4" stroke-linecap="butt"/>
<line x1="211" y1="1294.2" x2="227" y2="1294.2" stroke="#161616" stroke-width="4.4" stroke-linecap="butt"/>
<text x="193.5" y="1309.7" font-size="53" font-weight="bold" text-anchor="end" fill="#161616">225</text>
<line x1="211" y1="1221.4" x2="220.5" y2="1221.4" stroke="#161616" stroke-width="4.4" stroke-linecap="butt"/>
<line x1="211" y1="1148.6" x2="227" y2="1148.6" stroke="#161616" stroke-width="4.4" stroke-linecap="butt"/>
<text x="193.5" y="1164.1" font-size="53" font-weight="bold" text-anchor="end" fill="#161616">300</text>
<line x1="211" y1="1075.8" x2="220.5" y2="1075.8" stroke="#161616" stroke-width="4.4" stroke-linecap="butt"/>
<text x="193.5" y="1018.5" font-size="53" font-weight="bold" text-anchor="end" fill="#161616">375</text>
<line x1="300.3" y1="1731" x2="300.3" y2="1715" stroke="#161616" stroke-width="4.4" stroke-linecap="butt"/>
<text x="300.3" y="1789" font-size="53" font-weight="bold" text-anchor="middle" fill="#161616">0</text>
<line x1="390.1" y1="1731" x2="390.1" y2="1721.5" stroke="#161616" stroke-width="4.4" stroke-linecap="butt"/>
<line x1="479.8" y1="1731" x2="479.8" y2="1715" stroke="#161616" stroke-width="4.4" stroke-linecap="butt"/>
<text x="479.8" y="1789" font-size="53" font-weight="bold" text-anchor="middle" fill="#161616">5</text>
<line x1="569.5" y1="1731" x2="569.5" y2="1721.5" stroke="#161616" stroke-width="4.4" stroke-linecap="butt"/>
<line x1="659.3" y1="1731" x2="659.3" y2="1715" stroke="#161616" stroke-width="4.4" stroke-linecap="butt"/>
<text x="659.3" y="1789" font-size="53" font-weight="bold" text-anchor="middle" fill="#161616">10</text>
<line x1="749" y1="1731" x2="749" y2="1721.5" stroke="#161616" stroke-width="4.4" stroke-linecap="butt"/>
<line x1="838.8" y1="1731" x2="838.8" y2="1715" stroke="#161616" stroke-width="4.4" stroke-linecap="butt"/>
<text x="838.8" y="1789" font-size="53" font-weight="bold" text-anchor="middle" fill="#161616">15</text>
<line x1="928.5" y1="1731" x2="928.5" y2="1721.5" stroke="#161616" stroke-width="4.4" stroke-linecap="butt"/>
<line x1="1018.3" y1="1731" x2="1018.3" y2="1715" stroke="#161616" stroke-width="4.4" stroke-linecap="butt"/>
<text x="1018.3" y="1789" font-size="53" font-weight="bold" text-anchor="middle" fill="#161616">20</text>
<line x1="1108" y1="1731" x2="1108" y2="1721.5" stroke="#161616" stroke-width="4.4" stroke-linecap="butt"/>
<text x="367.5" y="1867" font-size="54.5" font-weight="bold" text-anchor="start" fill="#161616" textLength="582" lengthAdjust="spacingAndGlyphs">Current Density(A g<tspan font-size="54.5" dy="-24" dx="1.6">-1</tspan><tspan dy="24" dx="0">)</tspan></text>
<text x="76.7" y="1726" font-size="54" font-weight="bold" text-anchor="start" fill="#161616" transform="rotate(-90 76.7 1726)" textLength="713" lengthAdjust="spacingAndGlyphs">Specific Capacitance(F g<tspan font-size="54" dy="-18.9" dx="1.6">-1</tspan><tspan dy="18.9" dx="0">)</tspan></text>
<text x="263.7" y="1055.5" font-size="72" font-weight="bold" text-anchor="middle" fill="#161616">(c)</text>
</g>
<g id="panel-d">
<g>
<ellipse cx="1429.6" cy="1111.5" rx="10.2" ry="9.8" fill="url(#dotG)"/>
<ellipse cx="1444.2" cy="1114.3" rx="10.2" ry="9.8" fill="url(#dotG)"/>
<ellipse cx="1458.9" cy="1117" rx="10.2" ry="9.8" fill="url(#dotG)"/>
<ellipse cx="1473.5" cy="1119.8" rx="10.2" ry="9.8" fill="url(#dotG)"/>
<ellipse cx="1488.2" cy="1122.6" rx="10.2" ry="9.8" fill="url(#dotG)"/>
<ellipse cx="1502.8" cy="1125.4" rx="10.2" ry="9.8" fill="url(#dotG)"/>
<ellipse cx="1517.5" cy="1128.1" rx="10.2" ry="9.8" fill="url(#dotG)"/>
<ellipse cx="1532.1" cy="1130.9" rx="10.2" ry="9.8" fill="url(#dotG)"/>
<ellipse cx="1546.8" cy="1133.7" rx="10.2" ry="9.8" fill="url(#dotG)"/>
<ellipse cx="1561.4" cy="1136.4" rx="10.2" ry="9.8" fill="url(#dotG)"/>
<ellipse cx="1576.1" cy="1139.2" rx="10.2" ry="9.8" fill="url(#dotG)"/>
<ellipse cx="1590.8" cy="1142" rx="10.2" ry="9.8" fill="url(#dotG)"/>
<ellipse cx="1605.4" cy="1144.7" rx="10.2" ry="9.8" fill="url(#dotG)"/>
<ellipse cx="1620" cy="1147.4" rx="10.2" ry="9.8" fill="url(#dotG)"/>
<ellipse cx="1634.7" cy="1150.2" rx="10.2" ry="9.8" fill="url(#dotG)"/>
<ellipse cx="1649.3" cy="1152.9" rx="10.2" ry="9.8" fill="url(#dotG)"/>
<ellipse cx="1664" cy="1155.7" rx="10.2" ry="9.8" fill="url(#dotG)"/>
<ellipse cx="1678.6" cy="1158.4" rx="10.2" ry="9.8" fill="url(#dotG)"/>
<ellipse cx="1693.3" cy="1161.2" rx="10.2" ry="9.8" fill="url(#dotG)"/>
<ellipse cx="1707.9" cy="1163.9" rx="10.2" ry="9.8" fill="url(#dotG)"/>
<ellipse cx="1722.6" cy="1166.6" rx="10.2" ry="9.8" fill="url(#dotG)"/>
<ellipse cx="1737.2" cy="1169.2" rx="10.2" ry="9.8" fill="url(#dotG)"/>
<ellipse cx="1751.9" cy="1171.5" rx="10.2" ry="9.8" fill="url(#dotG)"/>
<ellipse cx="1766.5" cy="1173.8" rx="10.2" ry="9.8" fill="url(#dotG)"/>
<ellipse cx="1781.2" cy="1176.2" rx="10.2" ry="9.8" fill="url(#dotG)"/>
<ellipse cx="1795.8" cy="1178.5" rx="10.2" ry="9.8" fill="url(#dotG)"/>
<ellipse cx="1810.5" cy="1180.5" rx="10.2" ry="9.8" fill="url(#dotG)"/>
<ellipse cx="1825.1" cy="1182.4" rx="10.2" ry="9.8" fill="url(#dotG)"/>
<ellipse cx="1839.8" cy="1184.4" rx="10.2" ry="9.8" fill="url(#dotG)"/>
<ellipse cx="1854.4" cy="1185.4" rx="10.2" ry="9.8" fill="url(#dotG)"/>
<ellipse cx="1869.1" cy="1186.5" rx="10.2" ry="9.8" fill="url(#dotG)"/>
<ellipse cx="1883.8" cy="1187.5" rx="10.2" ry="9.8" fill="url(#dotG)"/>
<ellipse cx="1898.4" cy="1188.2" rx="10.2" ry="9.8" fill="url(#dotG)"/>
<ellipse cx="1913" cy="1188.8" rx="10.2" ry="9.8" fill="url(#dotG)"/>
<ellipse cx="1927.7" cy="1189.5" rx="10.2" ry="9.8" fill="url(#dotG)"/>
<ellipse cx="1942.3" cy="1190.2" rx="10.2" ry="9.8" fill="url(#dotG)"/>
<ellipse cx="1957" cy="1190.9" rx="10.2" ry="9.8" fill="url(#dotG)"/>
<ellipse cx="1971.6" cy="1191.6" rx="10.2" ry="9.8" fill="url(#dotG)"/>
<ellipse cx="1986.3" cy="1192.3" rx="10.2" ry="9.8" fill="url(#dotG)"/>
<ellipse cx="2000.9" cy="1193" rx="10.2" ry="9.8" fill="url(#dotG)"/>
<ellipse cx="2015.6" cy="1193.7" rx="10.2" ry="9.8" fill="url(#dotG)"/>
<ellipse cx="2030.2" cy="1194.4" rx="10.2" ry="9.8" fill="url(#dotG)"/>
<ellipse cx="2044.9" cy="1195.2" rx="10.2" ry="9.8" fill="url(#dotG)"/>
<ellipse cx="2059.5" cy="1195.9" rx="10.2" ry="9.8" fill="url(#dotG)"/>
<ellipse cx="2074.2" cy="1196.6" rx="10.2" ry="9.8" fill="url(#dotG)"/>
<ellipse cx="2088.8" cy="1197.3" rx="10.2" ry="9.8" fill="url(#dotG)"/>
<ellipse cx="2103.5" cy="1198" rx="10.2" ry="9.8" fill="url(#dotG)"/>
<ellipse cx="2118.1" cy="1198.7" rx="10.2" ry="9.8" fill="url(#dotG)"/>
<ellipse cx="2132.8" cy="1199.5" rx="10.2" ry="9.8" fill="url(#dotG)"/>
<ellipse cx="2147.4" cy="1200.2" rx="10.2" ry="9.8" fill="url(#dotG)"/>
<ellipse cx="2162.1" cy="1200.9" rx="10.2" ry="9.8" fill="url(#dotG)"/>
</g>
<g>
<ellipse cx="1429.6" cy="1310.8" rx="10.2" ry="9.8" fill="url(#dotR)"/>
<ellipse cx="1444.2" cy="1318.5" rx="10.2" ry="9.8" fill="url(#dotR)"/>
<ellipse cx="1458.9" cy="1326.2" rx="10.2" ry="9.8" fill="url(#dotR)"/>
<ellipse cx="1473.5" cy="1333.8" rx="10.2" ry="9.8" fill="url(#dotR)"/>
<ellipse cx="1488.2" cy="1341.5" rx="10.2" ry="9.8" fill="url(#dotR)"/>
<ellipse cx="1502.8" cy="1349.2" rx="10.2" ry="9.8" fill="url(#dotR)"/>
<ellipse cx="1517.5" cy="1356.9" rx="10.2" ry="9.8" fill="url(#dotR)"/>
<ellipse cx="1532.1" cy="1364.5" rx="10.2" ry="9.8" fill="url(#dotR)"/>
<ellipse cx="1546.8" cy="1372.2" rx="10.2" ry="9.8" fill="url(#dotR)"/>
<ellipse cx="1561.4" cy="1379.9" rx="10.2" ry="9.8" fill="url(#dotR)"/>
<ellipse cx="1576.1" cy="1387.6" rx="10.2" ry="9.8" fill="url(#dotR)"/>
<ellipse cx="1590.8" cy="1394.9" rx="10.2" ry="9.8" fill="url(#dotR)"/>
<ellipse cx="1605.4" cy="1401.8" rx="10.2" ry="9.8" fill="url(#dotR)"/>
<ellipse cx="1620" cy="1408.8" rx="10.2" ry="9.8" fill="url(#dotR)"/>
<ellipse cx="1634.7" cy="1415.8" rx="10.2" ry="9.8" fill="url(#dotR)"/>
<ellipse cx="1649.3" cy="1422.7" rx="10.2" ry="9.8" fill="url(#dotR)"/>
<ellipse cx="1664" cy="1429.7" rx="10.2" ry="9.8" fill="url(#dotR)"/>
<ellipse cx="1678.6" cy="1436.6" rx="10.2" ry="9.8" fill="url(#dotR)"/>
<ellipse cx="1693.3" cy="1443.6" rx="10.2" ry="9.8" fill="url(#dotR)"/>
<ellipse cx="1707.9" cy="1450.6" rx="10.2" ry="9.8" fill="url(#dotR)"/>
<ellipse cx="1722.6" cy="1457.5" rx="10.2" ry="9.8" fill="url(#dotR)"/>
<ellipse cx="1737.2" cy="1463.8" rx="10.2" ry="9.8" fill="url(#dotR)"/>
<ellipse cx="1751.9" cy="1469.2" rx="10.2" ry="9.8" fill="url(#dotR)"/>
<ellipse cx="1766.5" cy="1474.8" rx="10.2" ry="9.8" fill="url(#dotR)"/>
<ellipse cx="1781.2" cy="1480.2" rx="10.2" ry="9.8" fill="url(#dotR)"/>
<ellipse cx="1795.8" cy="1485.1" rx="10.2" ry="9.8" fill="url(#dotR)"/>
<ellipse cx="1810.5" cy="1489.3" rx="10.2" ry="9.8" fill="url(#dotR)"/>
<ellipse cx="1825.1" cy="1493.4" rx="10.2" ry="9.8" fill="url(#dotR)"/>
<ellipse cx="1839.8" cy="1497.6" rx="10.2" ry="9.8" fill="url(#dotR)"/>
<ellipse cx="1854.4" cy="1499.8" rx="10.2" ry="9.8" fill="url(#dotR)"/>
<ellipse cx="1869.1" cy="1502" rx="10.2" ry="9.8" fill="url(#dotR)"/>
<ellipse cx="1883.8" cy="1503.2" rx="10.2" ry="9.8" fill="url(#dotR)"/>
<ellipse cx="1898.4" cy="1504.4" rx="10.2" ry="9.8" fill="url(#dotR)"/>
<ellipse cx="1913" cy="1505.6" rx="10.2" ry="9.8" fill="url(#dotR)"/>
<ellipse cx="1927.7" cy="1506.8" rx="10.2" ry="9.8" fill="url(#dotR)"/>
<ellipse cx="1942.3" cy="1508" rx="10.2" ry="9.8" fill="url(#dotR)"/>
<ellipse cx="1957" cy="1509.3" rx="10.2" ry="9.8" fill="url(#dotR)"/>
<ellipse cx="1971.6" cy="1510.8" rx="10.2" ry="9.8" fill="url(#dotR)"/>
<ellipse cx="1986.3" cy="1512.3" rx="10.2" ry="9.8" fill="url(#dotR)"/>
<ellipse cx="2000.9" cy="1513.7" rx="10.2" ry="9.8" fill="url(#dotR)"/>
<ellipse cx="2015.6" cy="1515.2" rx="10.2" ry="9.8" fill="url(#dotR)"/>
<ellipse cx="2030.2" cy="1516.7" rx="10.2" ry="9.8" fill="url(#dotR)"/>
<ellipse cx="2044.9" cy="1518.1" rx="10.2" ry="9.8" fill="url(#dotR)"/>
<ellipse cx="2059.5" cy="1519.6" rx="10.2" ry="9.8" fill="url(#dotR)"/>
<ellipse cx="2074.2" cy="1521.9" rx="10.2" ry="9.8" fill="url(#dotR)"/>
<ellipse cx="2088.8" cy="1524.3" rx="10.2" ry="9.8" fill="url(#dotR)"/>
<ellipse cx="2103.5" cy="1526.6" rx="10.2" ry="9.8" fill="url(#dotR)"/>
<ellipse cx="2118.1" cy="1529" rx="10.2" ry="9.8" fill="url(#dotR)"/>
<ellipse cx="2132.8" cy="1531.3" rx="10.2" ry="9.8" fill="url(#dotR)"/>
<ellipse cx="2147.4" cy="1533.7" rx="10.2" ry="9.8" fill="url(#dotR)"/>
<ellipse cx="2162.1" cy="1536" rx="10.2" ry="9.8" fill="url(#dotR)"/>
</g>
<line x1="1353.7" y1="990" x2="2237.4" y2="990" stroke="#161616" stroke-width="5.6" stroke-linecap="butt"/>
<line x1="1353.7" y1="1712.8" x2="2237.4" y2="1712.8" stroke="#161616" stroke-width="5.6" stroke-linecap="butt"/>
<line x1="1356.5" y1="987.2" x2="1356.5" y2="1715.6" stroke="#e8161e" stroke-width="5.8" stroke-linecap="butt"/>
<line x1="2234.6" y1="987.2" x2="2234.6" y2="1715.6" stroke="#1e8a1e" stroke-width="5.8" stroke-linecap="butt"/>
<text x="1338.5" y="1727.5" font-size="51.5" font-weight="bold" text-anchor="end" fill="#e8161e">140</text>
<line x1="1356.5" y1="1632" x2="1366" y2="1632" stroke="#7a2a2a" stroke-width="4.2" stroke-linecap="butt"/>
<line x1="1356.5" y1="1552" x2="1372.5" y2="1552" stroke="#e8161e" stroke-width="4.2" stroke-linecap="butt"/>
<text x="1338.5" y="1567.5" font-size="51.5" font-weight="bold" text-anchor="end" fill="#e8161e">160</text>
<line x1="1356.5" y1="1472" x2="1366" y2="1472" stroke="#7a2a2a" stroke-width="4.2" stroke-linecap="butt"/>
<line x1="1356.5" y1="1392" x2="1372.5" y2="1392" stroke="#e8161e" stroke-width="4.2" stroke-linecap="butt"/>
<text x="1338.5" y="1407.5" font-size="51.5" font-weight="bold" text-anchor="end" fill="#e8161e">180</text>
<line x1="1356.5" y1="1312" x2="1366" y2="1312" stroke="#7a2a2a" stroke-width="4.2" stroke-linecap="butt"/>
<line x1="1356.5" y1="1232" x2="1372.5" y2="1232" stroke="#e8161e" stroke-width="4.2" stroke-linecap="butt"/>
<text x="1338.5" y="1247.5" font-size="51.5" font-weight="bold" text-anchor="end" fill="#e8161e">200</text>
<line x1="1356.5" y1="1152" x2="1366" y2="1152" stroke="#7a2a2a" stroke-width="4.2" stroke-linecap="butt"/>
<line x1="1356.5" y1="1072" x2="1372.5" y2="1072" stroke="#e8161e" stroke-width="4.2" stroke-linecap="butt"/>
<text x="1338.5" y="1087.5" font-size="51.5" font-weight="bold" text-anchor="end" fill="#e8161e">220</text>
<line x1="2234.6" y1="1594.8" x2="2221.6" y2="1594.8" stroke="#1e8a1e" stroke-width="4.2" stroke-linecap="butt"/>
<text x="2250" y="1612.8" font-size="53" font-weight="bold" text-anchor="start" fill="#1e8a1e">60</text>
<line x1="2234.6" y1="1353" x2="2221.6" y2="1353" stroke="#1e8a1e" stroke-width="4.2" stroke-linecap="butt"/>
<text x="2250" y="1371" font-size="53" font-weight="bold" text-anchor="start" fill="#1e8a1e">80</text>
<line x1="2234.6" y1="1111.2" x2="2221.6" y2="1111.2" stroke="#1e8a1e" stroke-width="4.2" stroke-linecap="butt"/>
<text x="2250" y="1129.2" font-size="53" font-weight="bold" text-anchor="start" fill="#1e8a1e">100</text>
<line x1="2234.6" y1="1473.9" x2="2226.6" y2="1473.9" stroke="#1e8a1e" stroke-width="4.2" stroke-linecap="butt"/>
<line x1="2234.6" y1="1232.1" x2="2226.6" y2="1232.1" stroke="#1e8a1e" stroke-width="4.2" stroke-linecap="butt"/>
<line x1="1429.6" y1="1712.8" x2="1429.6" y2="1696.8" stroke="#161616" stroke-width="4.2" stroke-linecap="butt"/>
<text x="1428.1" y="1772" font-size="51.5" font-weight="bold" text-anchor="middle" fill="#161616">0</text>
<line x1="1502.8" y1="1712.8" x2="1502.8" y2="1703.3" stroke="#161616" stroke-width="4.2" stroke-linecap="butt"/>
<line x1="1576.1" y1="1712.8" x2="1576.1" y2="1696.8" stroke="#161616" stroke-width="4.2" stroke-linecap="butt"/>
<text x="1574.6" y="1772" font-size="51.5" font-weight="bold" text-anchor="middle" fill="#161616">1000</text>
<line x1="1649.3" y1="1712.8" x2="1649.3" y2="1703.3" stroke="#161616" stroke-width="4.2" stroke-linecap="butt"/>
<line x1="1722.6" y1="1712.8" x2="1722.6" y2="1696.8" stroke="#161616" stroke-width="4.2" stroke-linecap="butt"/>
<text x="1721.1" y="1772" font-size="51.5" font-weight="bold" text-anchor="middle" fill="#161616">2000</text>
<line x1="1795.8" y1="1712.8" x2="1795.8" y2="1703.3" stroke="#161616" stroke-width="4.2" stroke-linecap="butt"/>
<line x1="1869.1" y1="1712.8" x2="1869.1" y2="1696.8" stroke="#161616" stroke-width="4.2" stroke-linecap="butt"/>
<text x="1867.6" y="1772" font-size="51.5" font-weight="bold" text-anchor="middle" fill="#161616">3000</text>
<line x1="1942.3" y1="1712.8" x2="1942.3" y2="1703.3" stroke="#161616" stroke-width="4.2" stroke-linecap="butt"/>
<line x1="2015.6" y1="1712.8" x2="2015.6" y2="1696.8" stroke="#161616" stroke-width="4.2" stroke-linecap="butt"/>
<text x="2014.1" y="1772" font-size="51.5" font-weight="bold" text-anchor="middle" fill="#161616">4000</text>
<line x1="2088.8" y1="1712.8" x2="2088.8" y2="1703.3" stroke="#161616" stroke-width="4.2" stroke-linecap="butt"/>
<line x1="2162.1" y1="1712.8" x2="2162.1" y2="1696.8" stroke="#161616" stroke-width="4.2" stroke-linecap="butt"/>
<text x="2160.6" y="1772" font-size="51.5" font-weight="bold" text-anchor="middle" fill="#161616">5000</text>
<text x="1617" y="1855.5" font-size="54" font-weight="bold" text-anchor="start" fill="#161616" textLength="358" lengthAdjust="spacingAndGlyphs">Cycle Number</text>
<text x="1231" y="1709" font-size="54.5" font-weight="bold" text-anchor="start" fill="#e8161e" transform="rotate(-90 1231 1709)" textLength="708" lengthAdjust="spacingAndGlyphs">Specific Capacitance(F g<tspan font-size="54.5" dy="-19.6" dx="1.6">-1</tspan><tspan dy="19.6" dx="0">)</tspan></text>
<text x="2363.5" y="1052" font-size="54" font-weight="bold" text-anchor="start" fill="#1e8a1e" transform="rotate(90 2363.5 1052)" textLength="670" lengthAdjust="spacingAndGlyphs">Capacitance Retention(%)</text>
<text x="1409" y="1065.5" font-size="72" font-weight="bold" text-anchor="middle" fill="#161616">(d)</text>
</g>
</g>
</svg>
</body></html>
